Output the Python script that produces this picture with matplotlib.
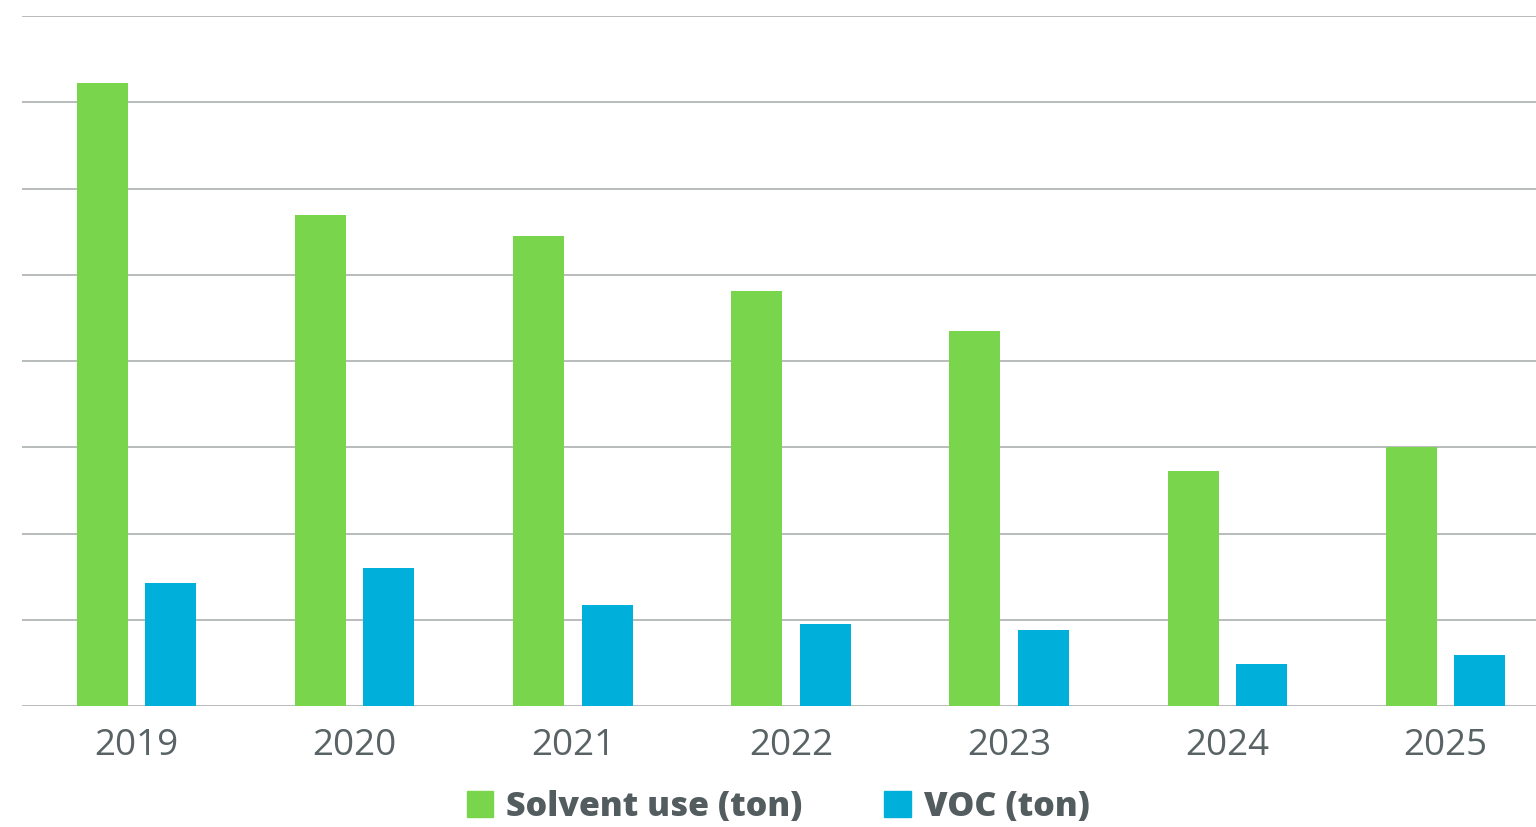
import matplotlib
matplotlib.use("Agg")
import matplotlib.pyplot as plt
import numpy as np
from matplotlib.patches import Patch

years = ["2019", "2020", "2021", "2022", "2023", "2024", "2025"]
solvent_use = [7.22, 5.69, 5.45, 4.81, 4.35, 2.72, 3.00]
voc = [1.43, 1.60, 1.17, 0.95, 0.88, 0.49, 0.59]
series_names = ["Solvent use (ton)", "VOC (ton)"]

green = "#79D64C"
blue = "#00B0DA"
text_col = "#535C5E"
tick_col = "#596365"
grid_col = "#B9BCBC"

plt.rcParams['font.family'] = ['Open Sans', 'DejaVu Sans']

fig = plt.figure(figsize=(15.36, 8.27), dpi=100)
ax = fig.add_axes([22/1536, (827-706)/827, 1 - 22/1536, (706-16)/827])

x = np.arange(len(years))
w = 0.2336
off = 0.157
ax.bar(x - off, solvent_use, width=w, color=green, label=series_names[0], zorder=3)
ax.bar(x + off, voc, width=w, color=blue, label=series_names[1], zorder=3)

ax.set_xlim(-0.525, 6.415)
ax.set_ylim(0, 8)
ax.set_yticks(np.arange(0, 9, 1))
ax.yaxis.grid(True, color=grid_col, linewidth=1.4, zorder=0)
ax.set_axisbelow(True)
ax.tick_params(axis='y', left=False, labelleft=False)
ax.set_xticks(x)
ax.set_xticklabels(years, fontsize=26.5, color=tick_col)
ax.tick_params(axis='x', length=0, pad=16)
for s in ["top", "right", "left", "bottom"]:
    ax.spines[s].set_visible(False)

handles = [Patch(color=green), Patch(color=blue)]
leg = fig.legend(handles, series_names, loc='center', bbox_to_anchor=(778/1536, 1 - 807/827),
                 ncol=2, frameon=False, prop={'family': ['Open Sans', 'DejaVu Sans'], 'weight': 800, 'size': 24.5},
                 handlelength=0.79, handleheight=0.79,
                 handletextpad=0.38, columnspacing=2.38, borderaxespad=0, borderpad=0)
for t in leg.get_texts():
    t.set_color(text_col)

fig.savefig("out.png", dpi=100)
